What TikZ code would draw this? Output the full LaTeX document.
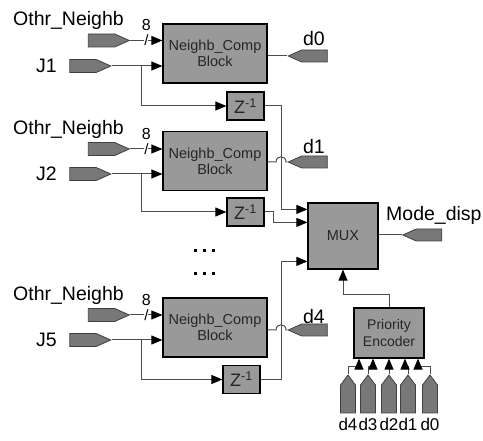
\documentclass[tikz,border=0pt]{standalone}
\usepackage{fontspec}
\setmainfont{Liberation Sans}
\usetikzlibrary{positioning,shapes.symbols,arrows.meta}
\tikzset{
    blk/.style = {draw=black, line width=1.2pt, fill=black!40, rectangle, minimum width=104pt, minimum height=59pt, align=center, text=black!85, font=\fontsize{14.5}{16}\selectfont},
    zbox/.style = {blk, minimum width=37pt, minimum height=28pt, font=\fontsize{18}{18}\selectfont},
    port-in/.style = {draw=black!75, fill=black!53, line width=0.8pt, signal, signal to=east, signal pointer angle=48, minimum width=41pt, minimum height=13pt, inner sep=0pt},
    port-out/.style = {port-in, signal to=west, minimum width=39pt, minimum height=12pt},
    port-up/.style = {port-in, signal to=north, signal pointer angle=74, minimum width=15pt, minimum height=28pt},
    lbl/.style = {inner sep=0pt, font=\fontsize{19.5}{19.5}\selectfont},
    small-lbl/.style = {inner sep=0pt, font=\fontsize{17}{17}\selectfont},
    wire/.style = {draw=black!70, line width=1pt},
    arr/.style = {wire, -{Triangle[length=11pt,width=9pt,color=black]}},
}

\begin{document}
\begin{tikzpicture}[x=1pt, y=-1pt]
\useasboundingbox (0,0) rectangle (483,441);

% compare blocks
\node[blk] (nc1) at (215,53.5) {Neighb\_Comp\\Block};
\node[blk] (nc2) at (215,161) {Neighb\_Comp\\Block};
\node[blk] (nc3) at (215,327.5) {Neighb\_Comp\\Block};
\node[zbox] (z1) at (245.5,106) {Z\textsuperscript{-1}};
\node[zbox] (z2) at (245.5,212) {Z\textsuperscript{-1}};
\node[zbox] (z3) at (241.5,379.5) {Z\textsuperscript{-1}};
\node[blk, minimum width=70pt, minimum height=66pt] (mux) at (343,236) {MUX};
\node[blk, minimum width=70pt, minimum height=50pt, font=\fontsize{14}{17}\selectfont] (pe) at (389,333) {Priority\\Encoder};

% input ports
\node[port-in] (o1) at (101.5,40.5) {};
\node[port-in] (j1) at (83,66) {};
\node[port-in] (o2) at (101.5,149) {};
\node[port-in] (j2) at (83,174) {};
\node[port-in] (o3) at (101.5,315) {};
\node[port-in] (j3) at (83,340) {};
\node[lbl, anchor=west] at (13,20) {Othr\_Neighb};
\node[lbl, anchor=west] at (13,129) {Othr\_Neighb};
\node[lbl, anchor=west] at (13,295) {Othr\_Neighb};
\node[lbl, anchor=east] at (57,66) {J1};
\node[lbl, anchor=east] at (57,174) {J2};
\node[lbl, anchor=east] at (57,340) {J5};

% output ports
\node[port-out] (d0) at (314.5,56) {};
\node[port-out] (d1) at (314.5,162) {};
\node[port-out] (d4) at (314.5,330) {};
\node[port-out] (md) at (429,235) {};
\node[lbl] at (314,39) {d0};
\node[lbl] at (314,147) {d1};
\node[lbl] at (314,317) {d4};
\node[lbl, anchor=west] at (386,215) {Mode\_disp};

% encoder inputs
\node[port-up] (p4) at (348,399) {};
\node[port-up] (p3) at (368,399) {};
\node[port-up] (p2) at (389,399) {};
\node[port-up] (p1) at (408,399) {};
\node[port-up] (p0) at (430,399) {};
\foreach \p/\t in {p4/d4,p3/d3,p2/d2,p1/d1,p0/d0}
    \node[small-lbl, below=5pt of \p] {\t};

% wires into the blocks
\foreach \o/\j/\n/\z in {o1/j1/nc1/z1, o2/j2/nc2/z2, o3/j3/nc3/z3} {
    \draw[arr] (\o.east) -- node[midway, inner sep=0pt, fill=white, font=\fontsize{15}{15}\selectfont] {/}
        node[midway, above=9pt, inner sep=0pt, font=\fontsize{16}{16}\selectfont] {8} (\n.west |- \o);
    \draw[arr] (\j.east) -- (\n.west |- \j);
    \draw[arr] ([xshift=30pt]\j.east) |- (\z.west);
}

% block outputs
\draw[wire] (nc1.east |- d0) -- (d0.west);
\draw[wire] (nc2.east |- d1) -- (276,162) .. controls (276,155) and (286,155) .. (286,162) -- (d1.west);
\draw[wire] (nc3.east |- d4) -- (276,330) .. controls (276,323) and (286,323) .. (286,330) -- (d4.west);

% delays into the mux
\draw[arr] (z1.east) -- ++(17,0) |- ([yshift=-7pt]mux.north west);
\draw[arr] (z2.east) -- ++(9,0) |- ([yshift=-20pt]mux.north west);
\draw[arr] (z3.east) -- ++(21,0) |- ([yshift=-59pt]mux.north west);
\draw[wire] (mux.east |- md) -- (md.west);
\draw[arr] (pe.north) -- ++(0,-13) -| (mux.south);

% encoder wires
\draw[arr] (p4.north) -- ++(0,-8) -| ([xshift=-30pt]pe.south);
\draw[arr] (p3.north) -- ++(0,-8) -| ([xshift=-16pt]pe.south);
\draw[arr] (p2.north) -- (pe.south);
\draw[arr] (p1.north) -- ++(0,-8) -| ([xshift=16pt]pe.south);
\draw[arr] (p0.north) -- ++(0,-8) -| ([xshift=29pt]pe.south);

% dots
\foreach \y in {249,272}
    \foreach \x in {194,203,212}
        \fill (\x,\y) rectangle ++(3,3);
\end{tikzpicture}
\end{document}
